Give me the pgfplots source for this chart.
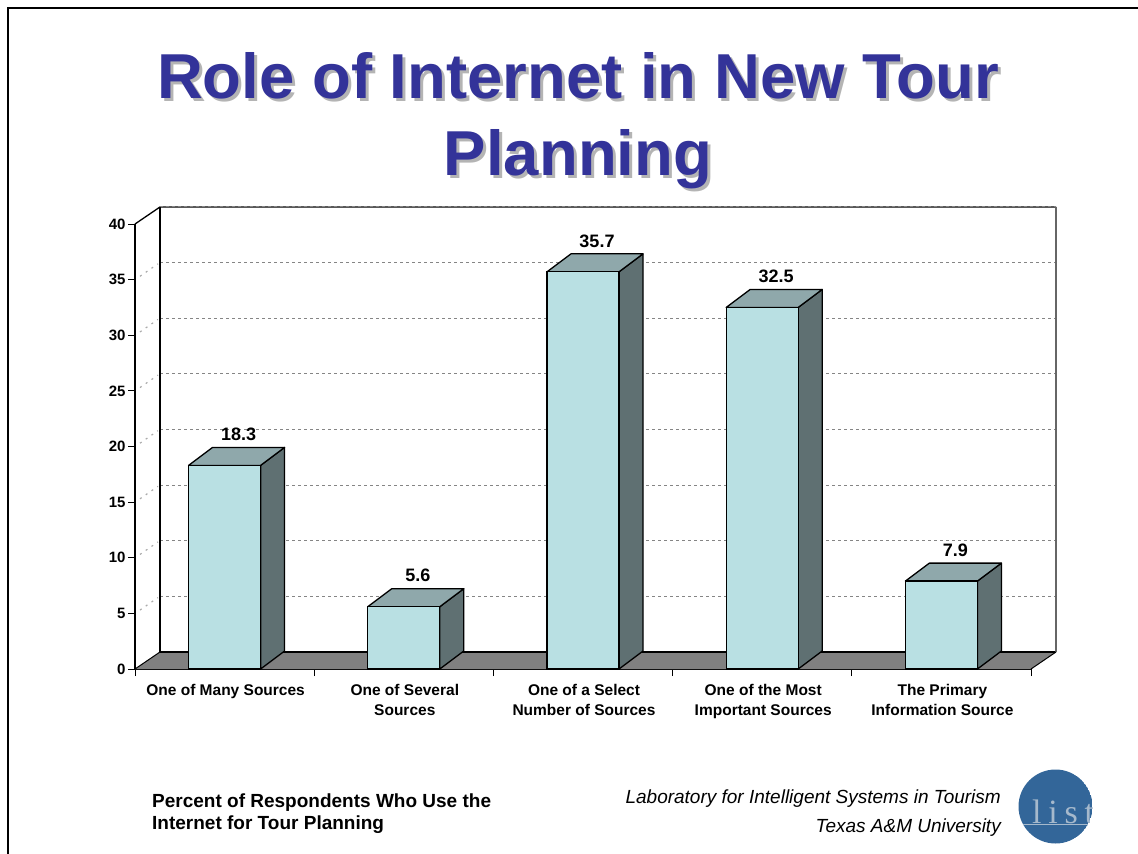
\documentclass[border=0pt]{standalone}
\usepackage{fontspec}
\setmainfont{Liberation Sans}
\newfontfamily\logofont[LetterSpace=20]{Liberation Serif}
\usepackage{pgfplots}
\pgfplotsset{compat=1.18}
\usepackage{pgfplotstable}
\definecolor{titleblue}{HTML}{333399}
\definecolor{titleshadow}{HTML}{B4B4B4}
\definecolor{barfront}{HTML}{B9E0E3}
\definecolor{bartop}{HTML}{8FA8AB}
\definecolor{barside}{HTML}{5F7072}
\definecolor{floorgrey}{HTML}{808080}
\definecolor{griddash}{HTML}{858585}
\definecolor{griddots}{HTML}{ABABAB}
\definecolor{logoblue}{HTML}{336699}
\definecolor{logoink}{HTML}{A6B9CC}

% Share of respondents per category; bars sit at x = 0.5, 1.5, ...
\pgfplotstableread{
x   share
0.5 18.3
1.5 5.6
2.5 35.7
3.5 32.5
4.5 7.9
}\sharetable

% Top and side faces of one extruded bar: {centre}{value}
\newcommand{\barfaces}[2]{%
  \pgfmathsetmacro\xa{#1-0.2009}%
  \pgfmathsetmacro\xb{#1+0.2009}%
  \pgfmathsetmacro\xc{#1-0.2009+0.1339}%
  \pgfmathsetmacro\xd{#1+0.2009+0.1339}%
  \pgfmathsetmacro\yt{#2+1.618}%
  \edef\doplot{%
    \noexpand\addplot[draw=black,line width=1.3pt,fill=barside,line join=round] coordinates
      {(\xb,0) (\xd,1.618) (\xd,\yt) (\xb,#2)} -- cycle;
    \noexpand\addplot[draw=black,line width=1.3pt,fill=bartop,line join=round] coordinates
      {(\xa,#2) (\xc,\yt) (\xd,\yt) (\xb,#2)} -- cycle;
  }\doplot
}

% Back-wall gridline and its dotted run across the side wall: {value}
\newcommand{\wallgrid}[1]{%
  \pgfmathsetmacro\yb{#1+1.53}%
  \pgfmathsetmacro\ya{#1+0.30}%
  \pgfmathsetmacro\ye{#1+1.42}%
  \edef\doplot{%
    \noexpand\addplot[griddash,line width=1.2pt,dash pattern=on 3pt off 3pt] coordinates
      {(0.1395,\yb) (5.1395,\yb)};
    \noexpand\addplot[griddots,line width=1.2pt,dash pattern=on 2pt off 5pt] coordinates
      {(0.028,\ya) (0.128,\ye)};
  }\doplot
}

\begin{document}
\begin{tikzpicture}[x=1pt,y=1pt]
\useasboundingbox (0,0) rectangle (1138,-854);

% Slide frame
\draw[black,line width=1.8pt] (8,-854) -- (8,-8) -- (1138,-8);

% Slide title with its drop shadow
\foreach \dx/\dy/\col in {3/-3/titleshadow,0/0/titleblue}{
  \node[font=\fontsize{63.5}{77}\selectfont\bfseries,text=\col,align=center,anchor=center]
    at (578+\dx,-121+\dy) {Role of Internet in New Tour\\Planning};
}

\begin{axis}[
  at={(135pt,-669pt)},anchor=south west,
  scale only axis,width=896pt,height=445pt,
  xmin=0,xmax=5,ymin=0,ymax=40,
  clip=false,
  axis x line*=bottom,axis y line*=left,
  axis line style={-,black},
  x axis line style={line width=1.8pt},
  y axis line style={line width=1.3pt},
  xtick={0.5,1.5,2.5,3.5,4.5},
  xticklabels={One of Many Sources,One of Several\\Sources,One of a Select\\Number of Sources,One of the Most\\Important Sources,The Primary\\Information Source},
  minor xtick={0,1,2,3,4,5},
  ytick={0,5,...,40},
  tick align=outside,
  major tick length=7pt,minor tick length=7pt,
  major x tick style={draw=none},
  minor x tick style={black,line width=0.8pt},
  major y tick style={black,line width=0.8pt},
  x tick label style={font=\fontsize{15.5}{20}\selectfont\bfseries,align=center,anchor=north,yshift=-5pt,xshift=1pt},
  y tick label style={font=\fontsize{15}{16}\selectfont\bfseries,/pgf/number format/assume math mode=true,xshift=1pt},
]
% Floor of the chart box
\addplot[draw=none,fill=floorgrey] coordinates
  {(0,0) (0.1395,1.53) (5.1395,1.53) (5,0)} -- cycle;
% Back-wall gridlines
\wallgrid{5}\wallgrid{10}\wallgrid{15}\wallgrid{20}\wallgrid{25}\wallgrid{30}\wallgrid{35}
% Edges of the chart box
\addplot[black,line width=1.3pt] coordinates {(0,40) (0.1395,41.53) (5.1395,41.53)};
\addplot[griddash,line width=1pt,dash pattern=on 3pt off 3pt] coordinates {(0.1395,41.53) (5.1395,41.53)};
\addplot[black,line width=1.3pt] coordinates {(0.1395,41.53) (0.1395,1.53) (5.1395,1.53)};
\addplot[black!60,line width=1.2pt] coordinates {(5.1395,41.53) (5.1395,1.53)};
\addplot[black,line width=1pt] coordinates {(0,0) (0.1395,1.53)};
\addplot[black,line width=1pt] coordinates {(5,0) (5.1395,1.53)};
% Bars: extruded faces first, then the front faces with their value labels
\barfaces{0.5}{18.3}\barfaces{1.5}{5.6}\barfaces{2.5}{35.7}\barfaces{3.5}{32.5}\barfaces{4.5}{7.9}
\addplot[ybar,bar width=72pt,bar shift=0pt,draw=black,line width=1.3pt,fill=barfront,
  nodes near coords,
  point meta=y,
  every node near coord/.style={font=\fontsize{18}{18}\selectfont\bfseries,text=black,anchor=center,xshift=14pt,yshift=31pt,
    /pgf/number format/fixed,/pgf/number format/fixed zerofill,/pgf/number format/precision=1,/pgf/number format/assume math mode=true},
] table[x=x,y=share] {\sharetable};
\end{axis}

% Footer notes
\node[font=\fontsize{19}{22}\selectfont\bfseries,align=left,anchor=west,inner sep=0pt] at (152,-814)
  {Percent of Respondents Who Use the\\Internet for Tour Planning};
\node[font=\fontsize{19}{29}\selectfont\itshape,align=right,anchor=east,inner sep=0pt] at (1001,-813.5)
  {Laboratory for Intelligent Systems in Tourism\\Texas A\&M University};

% Laboratory logo
\begin{scope}
  \clip (1055.5,-806.5) circle (37);
  \fill[logoblue] (1055.5,-806.5) circle (37);
  \node[font=\fontsize{34}{34}\logofont,text=logoink,anchor=base west,inner sep=0pt] at (1032,-823) {list};
  \fill[logoink] (1018,-823.5) rectangle (1093,-825);
\end{scope}
\fill[white] (1092.5,-760) rectangle (1100,-850);
\end{tikzpicture}
\end{document}
